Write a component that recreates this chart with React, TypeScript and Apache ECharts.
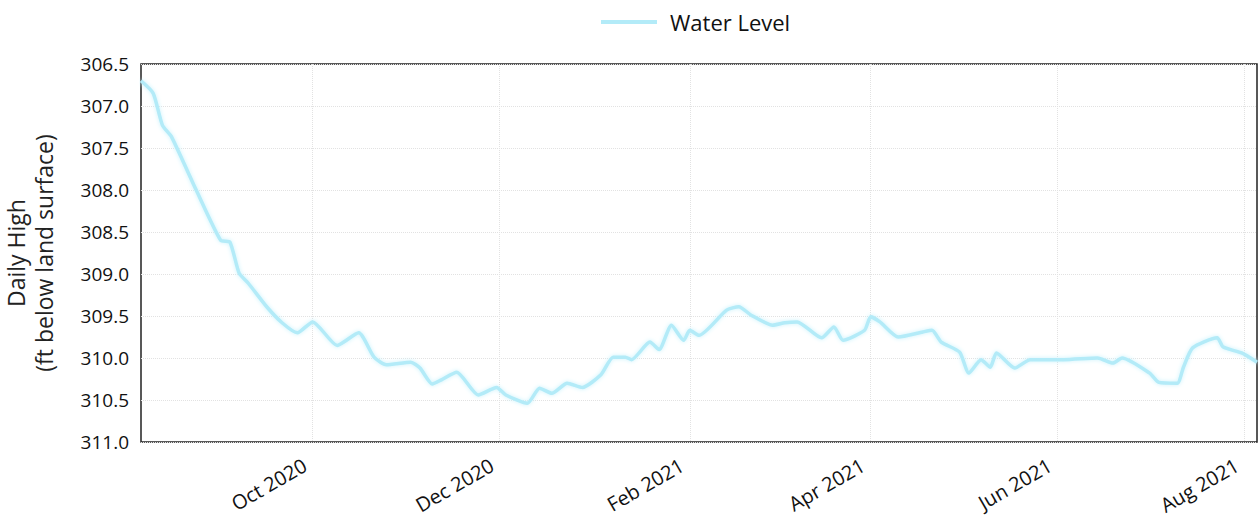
import React, { useEffect, useRef } from "react";
import * as echarts from "echarts";

const seriesName = "Water Level";
const dates = [
  "2020-08-06", "2020-08-10", "2020-08-13", "2020-08-16", "2020-08-24", "2020-09-01", "2020-09-04",
  "2020-09-07", "2020-09-10", "2020-09-16", "2020-09-21", "2020-09-26", "2020-10-01", "2020-10-09",
  "2020-10-16", "2020-10-21", "2020-10-25", "2020-11-02", "2020-11-05", "2020-11-09", "2020-11-12",
  "2020-11-17", "2020-11-24", "2020-11-30", "2020-12-03", "2020-12-10", "2020-12-14", "2020-12-18",
  "2020-12-23", "2020-12-28", "2021-01-03", "2021-01-07", "2021-01-11", "2021-01-13", "2021-01-19",
  "2021-01-22", "2021-01-26", "2021-01-30", "2021-02-01", "2021-02-04", "2021-02-13", "2021-02-17",
  "2021-02-21", "2021-02-28", "2021-03-04", "2021-03-08", "2021-03-16", "2021-03-20", "2021-03-23",
  "2021-03-30", "2021-04-01", "2021-04-04", "2021-04-10", "2021-04-18", "2021-04-21", "2021-04-24",
  "2021-04-30", "2021-05-03", "2021-05-07", "2021-05-10", "2021-05-12", "2021-05-18", "2021-05-23",
  "2021-06-03", "2021-06-14", "2021-06-19", "2021-06-22", "2021-07-01", "2021-07-04", "2021-07-10",
  "2021-07-12", "2021-07-15", "2021-07-23", "2021-07-25", "2021-07-31", "2021-08-05",
];
const levels = [
  306.70, 306.85, 307.23, 307.37, 308.00, 308.60, 308.62,
  308.99, 309.11, 309.39, 309.58, 309.70, 309.57, 309.85,
  309.70, 309.99, 310.08, 310.05, 310.12, 310.31, 310.26,
  310.17, 310.44, 310.35, 310.44, 310.54, 310.36, 310.42,
  310.30, 310.35, 310.20, 309.99, 309.99, 310.02, 309.81,
  309.90, 309.61, 309.79, 309.67, 309.73, 309.43, 309.39,
  309.49, 309.61, 309.58, 309.57, 309.76, 309.63, 309.79,
  309.67, 309.51, 309.57, 309.75, 309.69, 309.67, 309.81,
  309.93, 310.18, 310.02, 310.11, 309.94, 310.12, 310.02,
  310.02, 310.00, 310.06, 310.00, 310.18, 310.29, 310.30,
  310.11, 309.88, 309.76, 309.87, 309.94, 310.05,
];
const tickDates = ["2020-10-01", "2020-12-01", "2021-02-01", "2021-04-01", "2021-06-01", "2021-08-01"];
const tickLabels = ["Oct 2020", "Dec 2020", "Feb 2021", "Apr 2021", "Jun 2021", "Aug 2021"];
const xMin = "2020-08-06";
const xMax = "2021-08-05";
const yMin = 306.5;
const yMax = 311.0;
const yStep = 0.5;

function toTime(s: string): number {
  const [y, m, d] = s.split("-").map(Number);
  return Date.UTC(y, m - 1, d);
}

export default function App() {
  const ref = useRef<HTMLDivElement>(null);
  useEffect(() => {
    if (!ref.current) return;
    const chart = echarts.init(ref.current, undefined, { renderer: "svg" });
    const tickTimes = tickDates.map(toTime);
    const data = dates.map((d, i) => [toTime(d), levels[i]]);
    const font = "'Open Sans', 'DejaVu Sans', sans-serif";
    chart.setOption({
      animation: false,
      backgroundColor: "#ffffff",
      textStyle: { fontFamily: font },
      legend: {
        data: [seriesName],
        left: 596,
        top: 6,
        icon: "rect",
        itemWidth: 56,
        itemHeight: 4,
        textStyle: { fontSize: 22, color: "#111", fontFamily: font, padding: [0, 0, 0, 8] },
      },
      grid: {
        left: 141,
        right: 2,
        top: 64,
        bottom: 77,
        show: true,
        borderColor: "#222",
        borderWidth: 1.5,
        containLabel: false,
        outerBoundsMode: "none",
      },
      xAxis: {
        type: "value",
        min: toTime(xMin),
        max: toTime(xMax),
        axisLine: { show: false },
        axisTick: { show: false, customValues: tickTimes },
        axisLabel: {
          customValues: tickTimes,
          formatter: (v: number) => {
            const idx = tickTimes.findIndex((t) => Math.abs(t - v) < 3600000 * 12);
            return idx >= 0 ? tickLabels[idx] : "";
          },
          rotate: 30,
          margin: 17,
          fontSize: 20,
          lineHeight: 20,
          padding: [0, 9, 0, 0],
          color: "#111",
          fontFamily: font,
        },
        splitLine: { show: true, lineStyle: { type: "dotted", color: "#e2e2e2", width: 1 } },
      },
      yAxis: {
        type: "value",
        inverse: true,
        min: yMin,
        max: yMax,
        interval: yStep,
        name: "Daily High\n(ft below land surface)",
        nameLocation: "middle",
        nameGap: 83,
        nameTextStyle: { fontSize: 23, lineHeight: 28, color: "#222", fontFamily: font },
        axisLine: { show: false },
        axisTick: { show: false },
        axisLabel: {
          formatter: (v: number) => v.toFixed(1),
          fontSize: 19,
          margin: 12,
          color: "#111",
          fontFamily: font,
        },
        splitLine: { show: true, lineStyle: { type: "dotted", color: "#e2e2e2", width: 1 } },
      },
      series: [
        {
          name: seriesName,
          type: "line",
          data,
          showSymbol: false,
          smooth: 0.2,
          lineStyle: { width: 3.5, color: "#b3ebf8", shadowColor: "#c9f3fc", shadowBlur: 4 },
          itemStyle: { color: "#b3ebf8" },
        },
      ],
    });
    return () => chart.dispose();
  }, []);
  return <div ref={ref} style={{ position: "fixed", left: 0, top: 0, width: 1259, height: 519 }} />;
}
